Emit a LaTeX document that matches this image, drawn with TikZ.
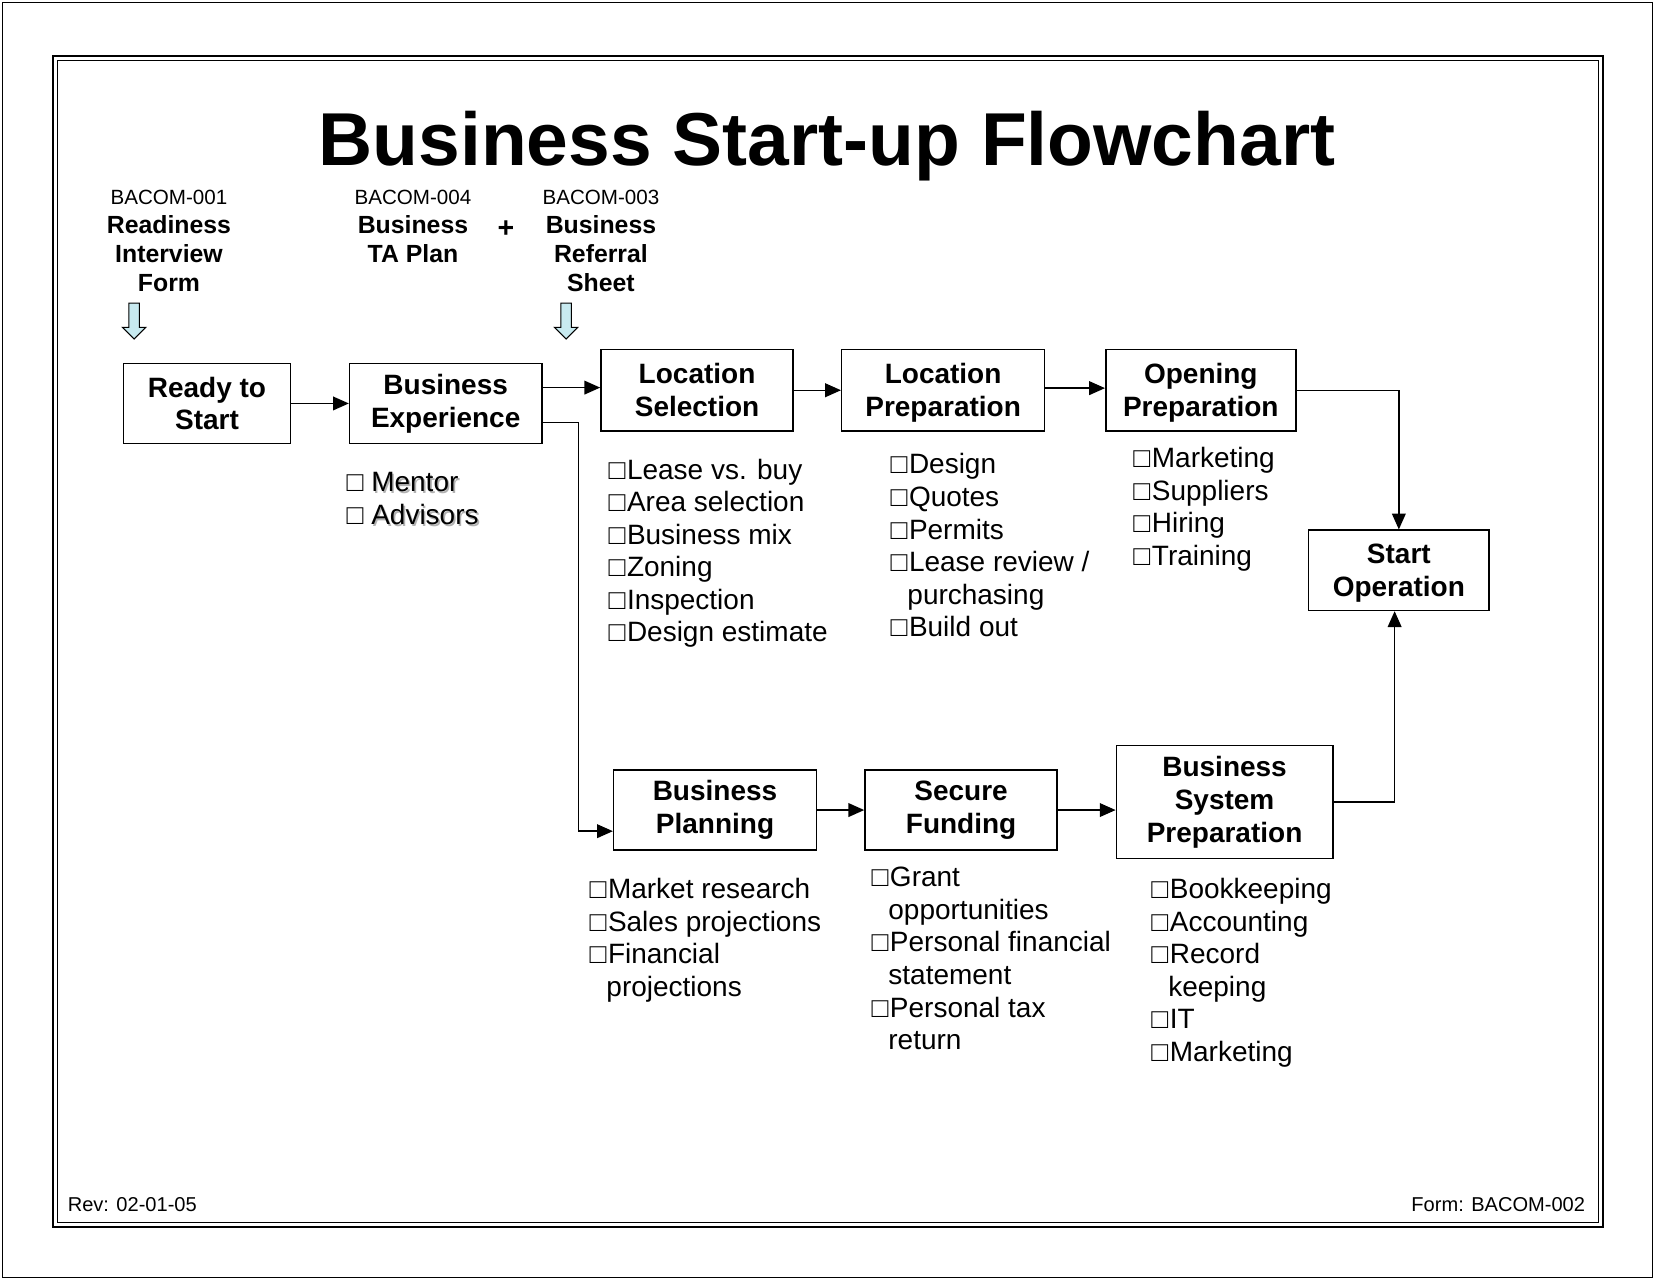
\documentclass[tikz,border=0pt]{standalone}
\usepackage{fontspec}
\setmainfont{Liberation Sans}
\usetikzlibrary{arrows.meta}
\definecolor{paleblue}{RGB}{200,234,240}
\newcommand{\bx}{□\hspace{1.5pt}}
\newcommand{\ind}{\phantom{□}}
\newcommand{\dn}{\rule{0pt}{24.5pt}}
\newcommand{\shadowtext}[1]{\makebox[0pt][l]{\hspace{1.6pt}\raisebox{-1.6pt}{\textcolor{black!30}{#1}}}#1}
\begin{document}
\begin{tikzpicture}[x=1pt,y=-1pt,
  box/.style={draw,line width=1.4pt,align=center,inner sep=0pt,
    font=\bfseries\fontsize{26.5}{31}\selectfont},
  arr/.style={line width=1.4pt,-{Triangle[length=15pt,width=13pt]}},
  lst/.style={align=left,anchor=north west,inner sep=0pt,
    font=\fontsize{26.5}{30.8}\selectfont},
  toplbl/.style={align=center,anchor=north,inner sep=0pt,
    font=\bfseries\fontsize{23.5}{27.5}\selectfont},
  foot/.style={inner sep=0pt,font=\fontsize{19}{22}\selectfont},
  hollow/.style={fill=paleblue,draw,line width=1pt,line join=miter}]
\useasboundingbox (0,0) rectangle (1568,1213);
% frames
\draw[line width=1pt] (2,2) rectangle (1565,1210);
\draw[line width=2pt] (50,53) rectangle (1518,1162);
\draw[line width=1pt] (54.5,57.5) rectangle (1513.5,1157.5);
% title
\node[font=\bfseries\fontsize{71}{80}\selectfont,anchor=base,inner sep=0pt] (title) at (783,157) {Business Start-up Flowchart};
% top labels
\node[toplbl] (f1) at (160,174.5) {{\mdseries\fontsize{19.5}{27.5}\selectfont\strut BACOM-001}\\Readiness\\Interview\\Form};
\node[toplbl] (f4) at (391,174.5) {{\mdseries\fontsize{19.5}{27.5}\selectfont\strut BACOM-004}\\Business\\TA Plan};
\node[font=\bfseries\fontsize{27}{30}\selectfont,inner sep=0pt] (plus) at (479,217) {+};
\node[toplbl] (f3) at (569,174.5) {{\mdseries\fontsize{19.5}{27.5}\selectfont\strut BACOM-003}\\Business\\Referral\\Sheet};
% hollow arrows
\draw[hollow] (122,287) -- (132,287) -- (132,310) -- (138,310) -- (127,321) -- (116,310) -- (122,310) -- cycle;
\draw[hollow] (531,287) -- (541,287) -- (541,310) -- (547,310) -- (536,321) -- (525,310) -- (531,310) -- cycle;
% boxes
\node[box,minimum width=158pt,minimum height=76pt] (rs) at (196,382) {Ready to\\Start};
\node[box,minimum width=182pt,minimum height=76pt] (be) at (422,382) {Business\\Experience};
\node[box,minimum width=182pt,minimum height=77pt] (ls) at (660,369.5) {Location\\Selection};
\node[box,minimum width=192pt,minimum height=77pt] (lp) at (893,369.5) {\dn Location\\Preparation};
\node[box,minimum width=180pt,minimum height=77pt] (op) at (1137,369.5) {\dn Opening\\Preparation};
\node[box,minimum width=171pt,minimum height=76pt] (so) at (1324.5,540) {\dn Start\\Operation};
\node[box,minimum width=192pt,minimum height=76pt] (bp) at (677,767) {Business\\Planning};
\node[box,minimum width=182pt,minimum height=76pt] (sf) at (910,767) {Secure\\Funding};
\node[box,minimum width=205pt,minimum height=107pt] (bsp) at (1159.5,759.5) {Business\\System\\Preparation};
% connectors
\draw[arr] (rs.east) -- (be.west);
\draw[arr] ([yshift=15pt]be.east) -- ([yshift=15pt]be.east -| ls.west);
\draw[arr] ([yshift=-18pt]be.east) -- ++(34,0) |- ([yshift=-20pt]bp.west);
\draw[arr] (ls.east) -- (lp.west);
\draw[arr] ([yshift=2pt]lp.east) -- ([yshift=2pt]lp.east -| op.west);
\draw[arr] (op.east) -| (so.north);
\draw[arr] (bp.east) -- (sf.west);
\draw[arr] (sf.east) -- (sf.east -| bsp.west);
\draw[arr] (bsp.east) -| ([xshift=-4pt]so.south);
% lists
\node[lst] (l0) at (328,444) {\strut□\ \shadowtext{Mentor}\\□\ \shadowtext{Advisors}};
\node[lst] (l1) at (576,432) {\strut\bx Lease vs. buy\\\bx Area selection\\\bx Business mix\\\bx Zoning\\\bx Inspection\\\bx Design estimate};
\node[lst] (l2) at (843,427) {\strut\bx Design\\\bx Quotes\\\bx Permits\\\bx Lease review /\\\ind purchasing\\\bx Build out};
\node[lst] (l3) at (1073,421) {\strut\bx Marketing\\\bx Suppliers\\\bx Hiring\\\bx Training};
\node[lst] (l4) at (558,829) {\strut\bx Market research\\\bx Sales projections\\\bx Financial\\\ind projections};
\node[lst] (l5) at (825,818) {\strut\bx Grant\\\ind opportunities\\\bx Personal financial\\\ind statement\\\bx Personal tax\\\ind return};
\node[lst] (l6) at (1090,829) {\strut\bx Bookkeeping\\\bx Accounting\\\bx Record\\\ind keeping\\\bx IT\\\bx Marketing};
% footer
\node[foot,anchor=base west] (rev) at (64,1147.5) {Rev: 02-01-05};
\node[foot,anchor=base east] (form) at (1501,1147.5) {Form: BACOM-002};
\end{tikzpicture}
\end{document}
